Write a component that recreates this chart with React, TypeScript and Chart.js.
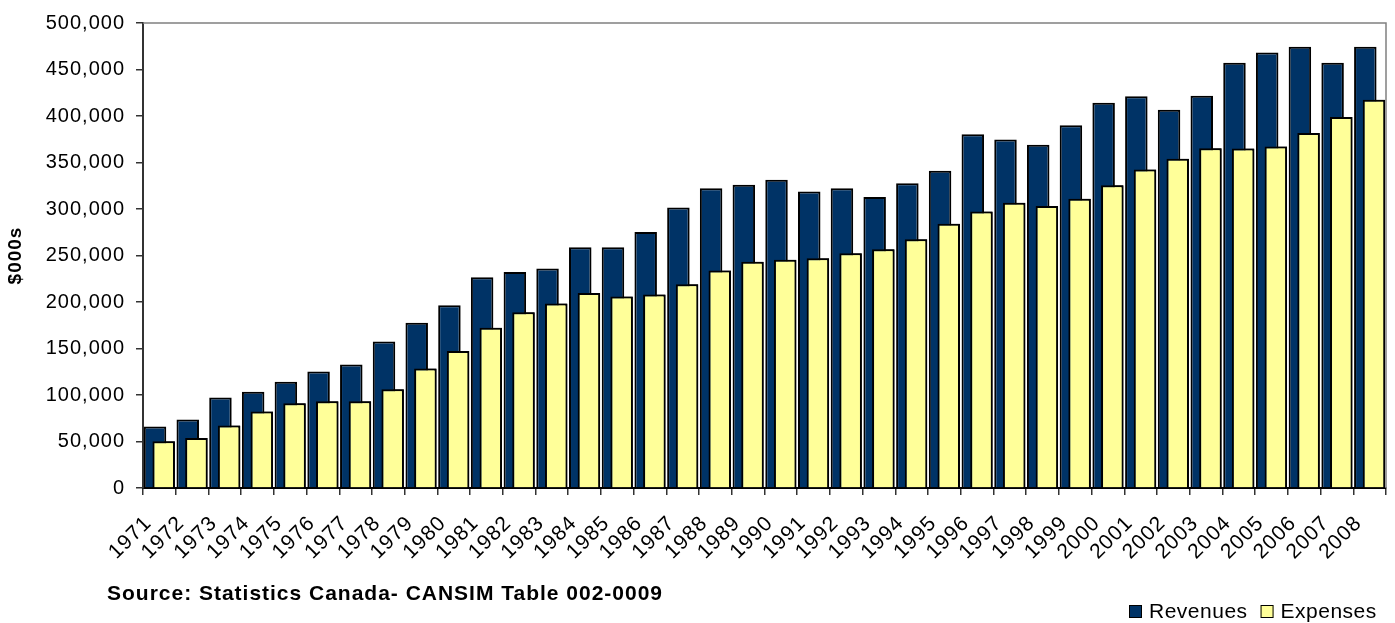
import React, { useEffect, useRef } from 'react';
import { Chart, registerables } from 'chart.js';

Chart.register(...registerables);

const years = [
  '1971', '1972', '1973', '1974', '1975', '1976', '1977', '1978', '1979', '1980',
  '1981', '1982', '1983', '1984', '1985', '1986', '1987', '1988', '1989', '1990',
  '1991', '1992', '1993', '1994', '1995', '1996', '1997', '1998', '1999', '2000',
  '2001', '2002', '2003', '2004', '2005', '2006', '2007', '2008',
];

const revenues = [
  66200, 73700, 97200, 103600, 114300, 125300, 132800, 157400, 177700, 196600,
  226500, 232200, 236100, 258900, 258900, 275300, 301600, 322300, 326200, 331500,
  318700, 322300, 313000, 327600, 341200, 380300, 374600, 369000, 390000, 414200,
  421300, 406700, 421700, 457300, 468300, 474400, 457300, 474400,
];

const expenses = [
  50200, 53700, 67300, 82300, 91100, 93300, 93300, 106100, 128600, 147400,
  172300, 189100, 198400, 209800, 205800, 208000, 219000, 234000, 243200, 245400,
  247100, 252500, 256700, 267500, 284200, 297400, 306600, 303100, 310900, 325500,
  342600, 354000, 365400, 365000, 367200, 381700, 398900, 417400,
];

const yMin = 0;
const yMax = 500000;
const yStep = 50000;

const seriesNames = ['Revenues', 'Expenses'];
const seriesColors = ['#003366', '#FFFF99'];
const yTitle = '$000s';
const sourceText = 'Source: Statistics Canada- CANSIM Table 002-0009';

const FONT = '"Liberation Sans", Arial, Helvetica, sans-serif';

export default function App() {
  const ref = useRef<HTMLCanvasElement>(null);

  useEffect(() => {
    const canvas = ref.current;
    if (!canvas) return;

    const spacing = {
      id: 'spacing',
      beforeUpdate(c: any) { c.ctx.letterSpacing = '1px'; },
      beforeLayout(c: any) { c.ctx.letterSpacing = '1px'; },
      beforeDraw(c: any) { c.ctx.letterSpacing = '1px'; },
    };

    const front = {
      id: 'front',
      afterDatasetsDraw(chart: any) {
        const meta = chart.getDatasetMeta(1);
        if (meta.hidden) return;
        const ctx = chart.ctx;
        const a = chart.chartArea;
        ctx.save();
        ctx.beginPath();
        ctx.rect(a.left, a.top - 4, a.right - a.left, a.bottom - a.top + 4);
        ctx.clip();
        meta.controller.draw();
        ctx.restore();
      },
    };

    const extras = {
      id: 'extras',
      afterDraw(chart: any) {
        const ctx = chart.ctx;
        const a = chart.chartArea;
        ctx.save();
        ctx.strokeStyle = '#808080';
        ctx.lineWidth = 1.5;
        ctx.beginPath();
        ctx.moveTo(a.left, a.top);
        ctx.lineTo(a.right, a.top);
        ctx.lineTo(a.right, a.bottom);
        ctx.stroke();

        ctx.fillStyle = '#000';
        ctx.textBaseline = 'middle';
        ctx.textAlign = 'left';
        ctx.font = `bold 21px ${FONT}`;
        ctx.letterSpacing = '0px';
        const w0 = ctx.measureText(sourceText).width;
        const ls = Math.max(0, (556 - w0) / sourceText.length);
        ctx.letterSpacing = `${ls.toFixed(2)}px`;
        ctx.fillText(sourceText, 107, 594);

        ctx.font = `21px ${FONT}`;
        ctx.letterSpacing = '0.5px';
        let x = 1129;
        seriesNames.forEach((name, i) => {
          ctx.fillStyle = seriesColors[i];
          ctx.fillRect(x, 605, 13, 13);
          ctx.strokeStyle = '#000';
          ctx.lineWidth = 1;
          ctx.strokeRect(x + 0.5, 605.5, 12, 12);
          ctx.fillStyle = '#000';
          ctx.fillText(name, x + 20, 612);
          x += 20 + ctx.measureText(name).width + 13;
        });
        ctx.restore();
      },
    };

    const chart = new Chart(canvas, {
      type: 'bar',
      data: {
        labels: years,
        datasets: [
          {
            label: seriesNames[0],
            data: revenues,
            backgroundColor: seriesColors[0],
            borderColor: '#000',
            borderWidth: 2,
            borderSkipped: 'start',
            categoryPercentage: 0.529,
            barPercentage: 2.6,
          },
          {
            label: seriesNames[1],
            data: expenses,
            backgroundColor: seriesColors[1],
            borderColor: '#000',
            borderWidth: 2,
            borderSkipped: 'start',
            categoryPercentage: 0.529,
            barPercentage: 2.6,
          },
        ],
      },
      options: {
        responsive: false,
        animation: false,
        layout: { padding: { left: 0, top: 20, right: 9, bottom: 0 } },
        plugins: {
          legend: { display: false },
          tooltip: { enabled: false },
          title: { display: false },
        },
        scales: {
          x: {
            offset: true,
            afterFit: (s: any) => {
              s.height = 135;
              s.paddingLeft = 0;
              s.paddingRight = 0;
            },
            grid: {
              offset: true,
              drawOnChartArea: false,
              drawTicks: true,
              tickLength: 7,
              tickColor: '#333',
              lineWidth: 1.5,
            },
            border: { display: true, color: '#000', width: 2 },
            ticks: {
              autoSkip: false,
              maxRotation: 45,
              minRotation: 45,
              color: '#000',
              padding: 16,
              labelOffset: -11,
              font: { family: FONT, size: 21 },
            },
          },
          y: {
            min: yMin,
            max: yMax,
            afterFit: (s: any) => { s.width = 143; },
            grid: {
              drawOnChartArea: false,
              drawTicks: true,
              tickLength: 7,
              tickColor: '#333',
              lineWidth: 1.5,
            },
            border: { display: true, color: '#333', width: 2 },
            ticks: {
              stepSize: yStep,
              color: '#000',
              padding: 11,
              font: { family: FONT, size: 20 },
              callback: (v: any) => Number(v).toLocaleString('en-US'),
            },
            title: {
              display: true,
              text: yTitle,
              color: '#000',
              font: { family: FONT, size: 19, weight: 'bold' },
              padding: { top: 4, bottom: 0 },
            },
          },
        },
      },
      plugins: [spacing, front, extras],
    });

    return () => chart.destroy();
  }, []);

  return (
    <div style={{ position: 'absolute', left: 0, top: 0, width: 1395, height: 623, background: '#fff' }}>
      <canvas ref={ref} width={1395} height={623} style={{ display: 'block' }} />
    </div>
  );
}
